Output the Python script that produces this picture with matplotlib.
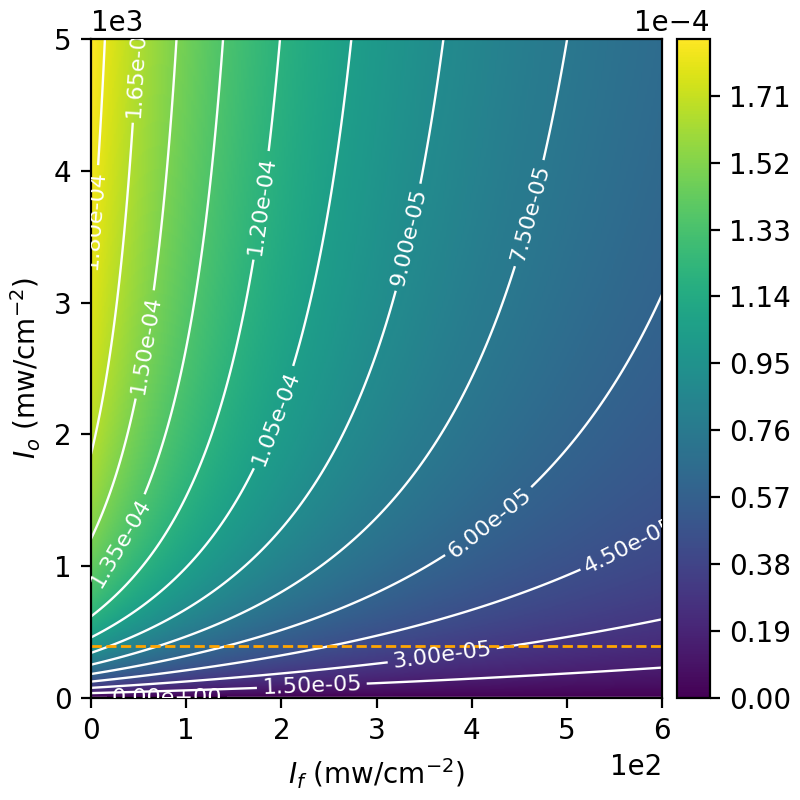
import numpy as np
import matplotlib.pyplot as plt
from matplotlib import ticker

# model coefficients: 1/f = c0 + c1/Io + c2*If + c3*If/Io + c4*If^2/Io + c5*If^2
coef = [0.4924, 210.1, 0.001217, 1.138, 0.0009379, 1.168e-7]
scale = 1e-4

If = np.linspace(0, 600, 301)
Io = np.linspace(0, 5000, 501)
levels = np.linspace(0, 1.8e-4, 13)
cbar_ticks = np.arange(10) * 1.9e-5
io_line = 390

# where the contour labels sit (If, Io)
label_pos = [(80, 15), (232, 95), (369, 323), (566, 1158), (419, 1325),
             (461, 3678), (332, 3498), (195, 2121), (176, 3741),
             (34, 1158), (58, 2680), (48, 4781), (6, 3627)]

X, Y = np.meshgrid(If, Io)
c0, c1, c2, c3, c4, c5 = coef
Z = scale * Y / (Y * (c0 + c2 * X + c5 * X**2) + c1 + c3 * X + c4 * X**2)

fig = plt.figure(figsize=(4, 4), dpi=200)
ax = fig.add_axes([0.11375, 0.128, 0.71375, 0.823])
cax = fig.add_axes([0.846, 0.128, 0.041, 0.823])

im = ax.imshow(Z, origin='lower', extent=[0, 600, 0, 5000], aspect='auto', cmap='viridis')
cs = ax.contour(X, Y, Z, levels=levels, colors='white', linewidths=0.85)
ax.clabel(cs, inline=True, fmt='%.2e', fontsize=8, manual=label_pos)
ax.axhline(io_line, color='orange', ls='--', lw=1.0)

ax.set_xlim(0, 600)
ax.set_ylim(0, 5000)
ax.ticklabel_format(axis='both', style='sci', scilimits=(0, 0))
ax.set_xlabel('$I_f$ (mw/cm$^{-2}$)')
ax.set_ylabel('$I_o$ (mw/cm$^{-2}$)')

cb = fig.colorbar(im, cax=cax, ticks=cbar_ticks)
fmt = ticker.ScalarFormatter()
fmt.set_powerlimits((0, 0))
cb.ax.yaxis.set_major_formatter(fmt)

plt.savefig('out.png', dpi=200)
